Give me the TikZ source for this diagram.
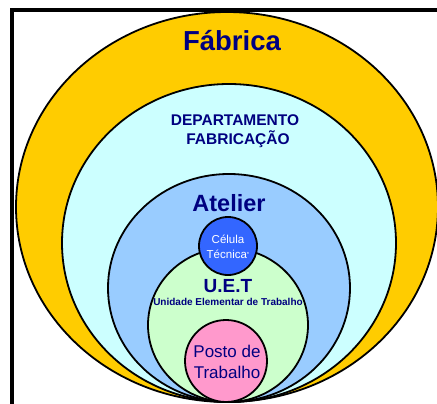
\documentclass[tikz,border=0pt]{standalone}
\usepackage{fontspec}
\setmainfont{Liberation Sans}
\definecolor{navy}{HTML}{000080}
\definecolor{fabr}{HTML}{FFCC00}
\definecolor{dept}{HTML}{CCFFFF}
\definecolor{atel}{HTML}{99CCFF}
\definecolor{uet}{HTML}{CCFFCC}
\definecolor{posto}{HTML}{FF99CC}
\definecolor{celula}{HTML}{3366FF}
\begin{document}
\begin{tikzpicture}[x=1pt,y=-1pt,
  ring/.style={draw=black,line width=1.8pt},
  lbl/.style={text=navy,font=\bfseries,align=center,inner sep=0pt},
  frame/.style={draw=black,line width=3.5pt}]
\useasboundingbox (0,0) rectangle (437,404);
\clip (0,0) rectangle (437,404);
\fill[white] (0,0) rectangle (437,404);
\draw[frame] (12,420) -- (12,10) -- (450,10);
\draw[ring,fill=fabr] (227,207) ellipse [x radius=211,y radius=195];
\draw[ring,fill=dept] (229,243) ellipse [x radius=167,y radius=159];
\draw[ring,fill=atel] (229,288) ellipse [x radius=121,y radius=114];
\draw[ring,fill=uet] (228,325) ellipse [x radius=80,y radius=77];
\draw[ring,fill=celula] (228,246) circle [radius=29];
\draw[ring,fill=posto] (226,361) circle [radius=41];
\node[lbl,font=\bfseries\fontsize{27.5}{30}\selectfont] (fab) at (232,41) {Fábrica};
\node[lbl,font=\bfseries\fontsize{15.5}{18.5}\selectfont] (dep) at (235,131) {DEPARTAMENTO\\\hspace{6pt}FABRICAÇÃO};
\node[lbl,font=\bfseries\fontsize{23.5}{26}\selectfont] (ate) at (229,203) {Atelier};
\node[text=white,align=center,inner sep=0pt,font=\fontsize{11.5}{15}\selectfont] (cel) at (228,247) {Célula\\Técnica\raisebox{2pt}{\fontsize{6}{6}\selectfont*}};
\node[lbl,font=\bfseries\fontsize{19}{21}\selectfont] (uetl) at (228,286) {U.E.T};
\node[lbl,font=\bfseries\fontsize{10}{12}\selectfont] (uetd) at (228,302) {Unidade Elementar de Trabalho};
\node[text=navy,align=center,inner sep=0pt,font=\fontsize{17}{21}\selectfont] (pos) at (227,362) {Posto de\\Trabalho};
\end{tikzpicture}
\end{document}
